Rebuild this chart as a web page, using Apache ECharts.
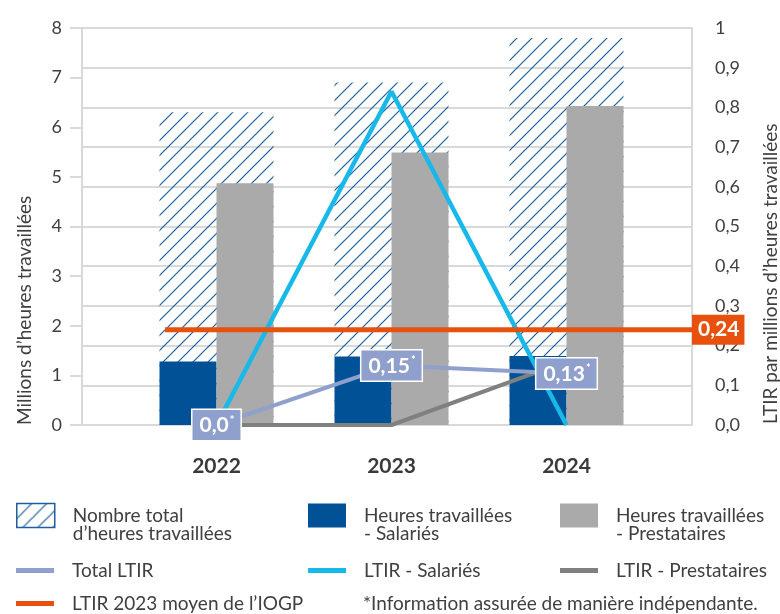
<!DOCTYPE html>
<html lang="fr">
<head>
<meta charset="UTF-8">
<script src="https://cdn.jsdelivr.net/npm/echarts@6/dist/echarts.min.js"></script>
<title>LTIR</title>
<style>
  html, body { margin: 0; padding: 0; background: #fff; }
  #main { width: 780px; height: 614px; }
</style>
</head>
<body>
<div id="main"></div>
<script type="text/javascript">
// data
var years = ['2022', '2023', '2024'];
var totalHours = [6.3, 6.9, 7.8];
var salariedHours = [1.28, 1.38, 1.39];
var contractorHours = [4.87, 5.49, 6.43];
var totalLtir = [0.0, 0.15, 0.13];
var salariedLtir = [0.0, 0.84, 0.0];
var contractorLtir = [0.0, 0.0, 0.16];
var iogpLtir = 0.24;
var iogpSpan = [0.136, 1];
var leftTicks = [0, 8, 1];
var rightTicks = [0, 1, 0.1];

var FONT = 'Lato';
var TXT = '#404040';
var GRID = '#d9d9d9';

// diagonal hatch used for the total bars
function hatch() {
    var c = document.createElement('canvas');
    c.width = 15; c.height = 15;
    var g = c.getContext('2d');
    g.strokeStyle = '#1d5e9f';
    g.lineWidth = 1.2;
    g.beginPath();
    g.moveTo(0, 15); g.lineTo(15, 0);
    g.moveTo(-2, 2); g.lineTo(2, -2);
    g.moveTo(13, 17); g.lineTo(17, 13);
    g.stroke();
    return c;
}
var hatchFill = { image: hatch(), repeat: 'repeat' };

function comma(v) {
    if (v === 0) return '0,0';
    return String(v).replace('.', ',');
}

var names = {
    total: 'Nombre total\nd\u2019heures travaillées',
    sal: 'Heures travaillées\n- Salariés',
    pre: 'Heures travaillées\n- Prestataires',
    tl: 'Total LTIR',
    sl: 'LTIR - Salariés',
    pl: 'LTIR - Prestataires',
    io: 'LTIR 2023 moyen de l\u2019IOGP'
};

// two-line legend entries: a blank first line puts the icon level with the first line
function legendAt(name, left, top, opts) {
    var l = {
        left: left, top: top, padding: 0,
        selectedMode: false,
        icon: 'rect',
        itemWidth: 38, itemHeight: 24,
        data: [name],
        formatter: function (n) { return '\n' + n; },
        textStyle: { fontFamily: FONT, fontSize: 19, color: TXT, lineHeight: 18, padding: [0, 0, 0, 13] }
    };
    if (opts) {
        for (var k in opts) l[k] = opts[k];
    }
    return l;
}
var lineLegend = {
    itemHeight: 5,
    formatter: '{name}',
    textStyle: { fontFamily: FONT, fontSize: 19, color: TXT, lineHeight: 19, padding: [0, 0, 0, 13] }
};

var chart = echarts.init(document.getElementById('main'));
chart.setOption({
    animation: false,
    textStyle: { fontFamily: FONT },
    grid: [
        { left: 82, right: 88, top: 28, bottom: 189 },
        { left: 129, right: 126, top: 28, bottom: 189 }
    ],
    xAxis: [
        { type: 'value', gridIndex: 0, min: 0, max: 1, show: false },
        {
            type: 'category', gridIndex: 1, data: years,
            axisLine: { show: false }, axisTick: { show: false },
            axisLabel: { margin: 31, fontSize: 21, fontWeight: 'bold', color: '#3a3a3a', fontFamily: FONT }
        },
        { type: 'category', gridIndex: 1, data: years, show: false }
    ],
    yAxis: [
        {
            type: 'value', gridIndex: 0, position: 'left',
            min: leftTicks[0], max: leftTicks[1], interval: leftTicks[2],
            axisLine: { show: true, lineStyle: { color: GRID, width: 2 } },
            axisTick: { show: true, length: 12, lineStyle: { color: GRID, width: 2 } },
            splitLine: { show: false },
            axisLabel: { margin: 20, fontSize: 18, color: TXT, fontFamily: FONT }
        },
        {
            type: 'value', gridIndex: 0, position: 'right',
            min: rightTicks[0], max: rightTicks[1], interval: rightTicks[2],
            axisLine: { show: true, lineStyle: { color: GRID, width: 2 } },
            axisTick: { show: false },
            splitLine: { show: true, lineStyle: { color: GRID, width: 2 } },
            axisLabel: {
                margin: 23, fontSize: 18, color: TXT, fontFamily: FONT,
                formatter: function (v) { return v === 1 ? '1' : v.toFixed(1).replace('.', ','); }
            }
        },
        { type: 'value', gridIndex: 1, min: leftTicks[0], max: leftTicks[1], show: false },
        { type: 'value', gridIndex: 1, min: rightTicks[0], max: rightTicks[1], show: false }
    ],
    legend: [
        legendAt(names.total, 16, 488, { itemStyle: { borderColor: '#1d5e9f', borderWidth: 1.5 } }),
        legendAt(names.sal, 308, 488),
        legendAt(names.pre, 560, 488),
        legendAt(names.tl, 16, 561, lineLegend),
        legendAt(names.sl, 308, 561, lineLegend),
        legendAt(names.pl, 560, 561, lineLegend),
        legendAt(names.io, 16, 594, lineLegend)
    ],
    graphic: [
        {
            type: 'text', x: 25, y: 425, rotation: Math.PI / 2,
            style: { text: 'Millions d\u2019heures travaillées', fill: TXT, font: '19px Lato', textAlign: 'left', textVerticalAlign: 'middle' }
        },
        {
            type: 'text', x: 771, y: 424, rotation: Math.PI / 2,
            style: { text: 'LTIR par millions d\u2019heures travaillées', fill: TXT, font: '19px Lato', textAlign: 'left', textVerticalAlign: 'middle' }
        },
        {
            type: 'text', x: 363, y: 604,
            style: { text: '*Information assurée de manière indépendante.', fill: TXT, font: '19px Lato', textAlign: 'left', textVerticalAlign: 'middle' }
        }
    ],
    series: [
        {
            name: names.total, type: 'bar', xAxisIndex: 2, yAxisIndex: 2,
            barWidth: 114, z: 1, data: totalHours,
            itemStyle: { color: hatchFill }
        },
        {
            name: names.sal, type: 'bar', xAxisIndex: 1, yAxisIndex: 2,
            barWidth: 57, barGap: 0, z: 2, data: salariedHours,
            color: '#005195', itemStyle: { color: '#005195' }
        },
        {
            name: names.pre, type: 'bar', xAxisIndex: 1, yAxisIndex: 2,
            barWidth: 57, barGap: 0, z: 2, data: contractorHours,
            color: '#aaaaaa', itemStyle: { color: '#aaaaaa' }
        },
        {
            name: names.sl, type: 'line', xAxisIndex: 1, yAxisIndex: 3, z: 3,
            data: salariedLtir, symbol: 'none',
            color: '#17b8ea', lineStyle: { color: '#17b8ea', width: 4.5 }
        },
        {
            name: names.pl, type: 'line', xAxisIndex: 1, yAxisIndex: 3, z: 3,
            data: contractorLtir, symbol: 'none',
            color: '#808080', lineStyle: { color: '#808080', width: 4 }
        },
        {
            name: names.tl, type: 'line', xAxisIndex: 1, yAxisIndex: 3, z: 4,
            data: totalLtir, symbol: 'circle', symbolSize: 1, showSymbol: true,
            color: '#8fa0cc', itemStyle: { color: '#8fa0cc' },
            lineStyle: { color: '#8fa0cc', width: 4 },
            label: {
                show: true, position: 'inside',
                backgroundColor: '#8fa0cc', borderColor: '#ffffff', borderWidth: 1.5,
                padding: [5, 6, 4, 7],
                formatter: function (p) { return '{v|' + comma(p.value) + '}{s|*}'; },
                rich: {
                    v: { color: '#fff', fontSize: 21, fontWeight: 'bold', fontFamily: FONT },
                    s: { color: '#fff', fontSize: 11, fontWeight: 'bold', verticalAlign: 'top', fontFamily: FONT, padding: [0, 0, 9, 1] }
                }
            }
        },
        {
            name: names.io, type: 'line', xAxisIndex: 0, yAxisIndex: 1, z: 6,
            data: [[iogpSpan[0], iogpLtir], [iogpSpan[1], iogpLtir]],
            symbol: 'none', clip: false,
            color: '#e8500e', lineStyle: { color: '#e8500e', width: 5 },
            endLabel: {
                show: true, distance: 0,
                formatter: function () { return comma(iogpLtir); },
                backgroundColor: '#e8500e', color: '#fff', fontSize: 21, fontWeight: 'bold',
                fontFamily: FONT, padding: [5, 5, 4, 6]
            }
        }
    ]
});
</script>
</body>
</html>
